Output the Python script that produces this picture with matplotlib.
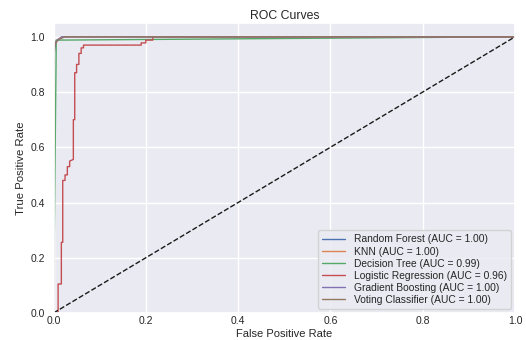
import matplotlib
matplotlib.use("Agg")
import matplotlib.pyplot as plt
import seaborn as sns

sns.set_theme(style="darkgrid")
plt.rcParams['font.family'] = ['Liberation Sans', 'DejaVu Sans']

rf_fpr = [0.0, 0.0, 0.002, 0.004, 0.006, 0.01, 0.02, 1.0]
rf_tpr = [0.0, 0.80, 0.95, 0.975, 0.985, 0.99, 1.0, 1.0]

knn_fpr = [0.0, 0.0, 0.002, 0.006, 0.012, 0.02, 1.0]
knn_tpr = [0.0, 0.93, 0.97, 0.985, 0.993, 1.0, 1.0]

dt_fpr = [0.0, 0.006, 1.0]
dt_tpr = [0.0, 0.988, 1.0]

lr_fpr = [0.0, 0.01, 0.01, 0.017, 0.017, 0.02, 0.02, 0.025, 0.025, 0.03, 0.03, 0.035,
          0.035, 0.043, 0.043, 0.046, 0.046, 0.05, 0.05, 0.055, 0.055, 0.06, 0.06,
          0.065, 0.065, 0.19, 0.19, 0.2, 0.2, 0.215, 0.215, 1.0]
lr_tpr = [0.0, 0.0, 0.105, 0.105, 0.256, 0.256, 0.48, 0.48, 0.50, 0.50, 0.53, 0.53,
          0.55, 0.556, 0.70, 0.70, 0.87, 0.87, 0.90, 0.90, 0.94, 0.94, 0.96,
          0.96, 0.97, 0.97, 0.978, 0.978, 0.988, 0.988, 1.0, 1.0]

gb_fpr = [0.0, 0.0, 0.002, 0.005, 0.01, 0.018, 1.0]
gb_tpr = [0.0, 0.85, 0.96, 0.98, 0.99, 1.0, 1.0]

vc_fpr = [0.0, 0.0, 0.003, 0.008, 0.015, 0.025, 1.0]
vc_tpr = [0.0, 0.90, 0.97, 0.985, 0.993, 1.0, 1.0]

labels = ["Random Forest (AUC = 1.00)", "KNN (AUC = 1.00)", "Decision Tree (AUC = 0.99)",
          "Logistic Regression (AUC = 0.96)", "Gradient Boosting (AUC = 1.00)",
          "Voting Classifier (AUC = 1.00)"]
curves = [(rf_fpr, rf_tpr), (knn_fpr, knn_tpr), (dt_fpr, dt_tpr),
          (lr_fpr, lr_tpr), (gb_fpr, gb_tpr), (vc_fpr, vc_tpr)]
colors = sns.color_palette("deep", 6)

fig = plt.figure(figsize=(5.26, 3.40), dpi=100)
ax_bottom_px = 313.0
ax_top_px = 23
ax_h = ax_bottom_px - ax_top_px
ax = fig.add_axes([53.5/526, (340-ax_bottom_px)/340, (515-53.5)/526, ax_h/340])

for (f, t), lab, c in zip(curves, labels, colors):
    ax.plot(f, t, color=c, lw=1.0, label=lab)
ax.plot([0, 1], [0, 1], 'k--', lw=1.0)

ax.set_xlim(0, 1.0)
ax.set_ylim(0, 1.05)
ax.set_xticks([0, 0.2, 0.4, 0.6, 0.8, 1.0])
ax.set_yticks([0, 0.2, 0.4, 0.6, 0.8, 1.0])
ax.tick_params(axis='x', labelsize=7.5, length=0, pad=2.5)
ax.tick_params(axis='y', labelsize=7.5, length=0, pad=6)
ax.set_xlabel("False Positive Rate", fontsize=8.0, va='bottom')
ax.xaxis.set_label_coords(0.5, (0.8 - (340 - ax_bottom_px)) / ax_h)
ax.set_ylabel("True Positive Rate", fontsize=8.2, labelpad=3)
ax.set_title("ROC Curves", fontsize=8.8, pad=3)
ax.legend(loc="lower right", fontsize=7.4, handlelength=2.3, labelspacing=0.2,
          borderaxespad=0.4, borderpad=0.4)

fig.savefig("out.png", dpi=100)
